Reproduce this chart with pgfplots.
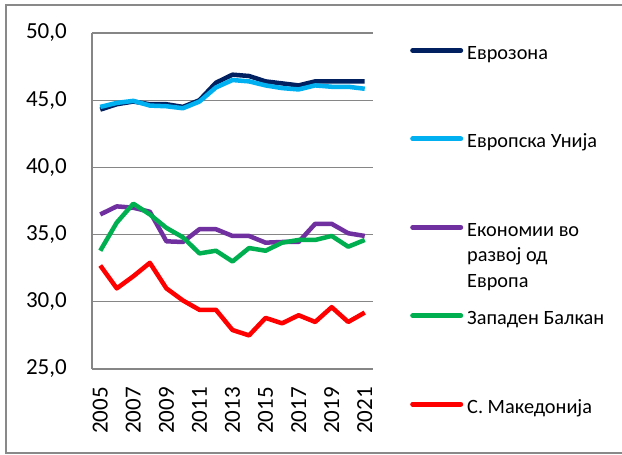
\documentclass[border=0pt]{standalone}
\usepackage{fontspec}
\setmainfont{Carlito}
\usepackage{pgfplots}
\pgfplotsset{compat=1.18}
\definecolor{ezone}{RGB}{0,32,96}
\definecolor{eu}{RGB}{0,176,240}
\definecolor{emerg}{RGB}{112,48,160}
\definecolor{wb}{RGB}{0,176,80}
\definecolor{mk}{RGB}{255,0,0}
\definecolor{axgray}{RGB}{134,134,134}
\definecolor{framegray}{RGB}{137,137,137}
\begin{document}
\begin{tikzpicture}
\useasboundingbox (0pt,0pt) rectangle (622pt,455pt);
\draw[framegray, line width=2pt] (6pt,2pt) rectangle (650pt,450pt);
\begin{axis}[
  at={(92pt,86pt)}, anchor=south west,
  scale only axis, width=281pt, height=336pt,
  xmin=2004.5, xmax=2021.5, ymin=25, ymax=50,
  axis x line*=bottom, axis y line*=left,
  axis line style={draw=axgray, line width=1.3pt},
  ymajorgrids, grid style={draw=axgray, line width=1.3pt},
  major tick length=0pt,
  /pgf/number format/assume math mode=true,
  tick label style={font=\fontsize{23}{27}\selectfont},
  xtick={2005,2007,...,2021},
  xticklabels={2005,2007,2009,2011,2013,2015,2017,2019,2021},
  xticklabel style={yshift=-18pt, rotate=90, anchor=east, inner sep=0pt},
  ytick={25,30,...,50},
  yticklabel style={/pgf/number format/fixed, /pgf/number format/fixed zerofill, /pgf/number format/precision=1, /pgf/number format/use comma, anchor=east, inner sep=0pt, xshift=-25pt},
  clip=false,
  legend cell align=left,
  legend image code/.code={\draw[#1, line width=5pt, line cap=round] (0pt,9pt) -- (48pt,9pt);},
  legend style={at={(axis description cs:1.1317,1.0533)}, anchor=north west, draw=none, fill=none, inner xsep=0pt, inner ysep=0pt, row sep=0pt, column sep=4pt, font=\fontsize{20.3}{25.5}\selectfont, nodes={inner sep=0pt, text height=44.2pt, text depth=44.2pt}},
  every axis plot/.append style={line width=4.5pt, line join=round, mark=none},
]
\addplot[ezone] coordinates {(2005,44.3) (2006,44.7) (2007,44.9) (2008,44.7) (2009,44.7) (2010,44.5) (2011,45.0) (2012,46.3) (2013,46.9) (2014,46.8) (2015,46.4) (2016,46.25) (2017,46.1) (2018,46.4) (2019,46.4) (2020,46.4) (2021,46.4)};
\addlegendentry{Еврозона}
\addplot[eu] coordinates {(2005,44.5) (2006,44.8) (2007,44.95) (2008,44.6) (2009,44.55) (2010,44.4) (2011,44.9) (2012,45.95) (2013,46.5) (2014,46.4) (2015,46.1) (2016,45.9) (2017,45.8) (2018,46.1) (2019,46.0) (2020,46.0) (2021,45.85)};
\addlegendentry{Европска Унија}
\addplot[emerg] coordinates {(2005,36.5) (2006,37.1) (2007,37.0) (2008,36.7) (2009,34.5) (2010,34.45) (2011,35.4) (2012,35.4) (2013,34.9) (2014,34.9) (2015,34.4) (2016,34.45) (2017,34.45) (2018,35.8) (2019,35.8) (2020,35.1) (2021,34.9)};
\addlegendentry{\vtop{\hbox{Економии во}\hbox{развој од}\hbox{Европа}}}
\addplot[wb] coordinates {(2005,33.8) (2006,35.9) (2007,37.3) (2008,36.5) (2009,35.5) (2010,34.8) (2011,33.6) (2012,33.8) (2013,33.0) (2014,34.0) (2015,33.8) (2016,34.4) (2017,34.6) (2018,34.6) (2019,34.9) (2020,34.1) (2021,34.6)};
\addlegendentry{Западен Балкан}
\addplot[mk] coordinates {(2005,32.7) (2006,31.0) (2007,31.9) (2008,32.9) (2009,31.0) (2010,30.1) (2011,29.4) (2012,29.4) (2013,27.9) (2014,27.5) (2015,28.8) (2016,28.4) (2017,29.0) (2018,28.5) (2019,29.6) (2020,28.5) (2021,29.2)};
\addlegendentry{С. Македонија}
\end{axis}
\end{tikzpicture}
\end{document}
